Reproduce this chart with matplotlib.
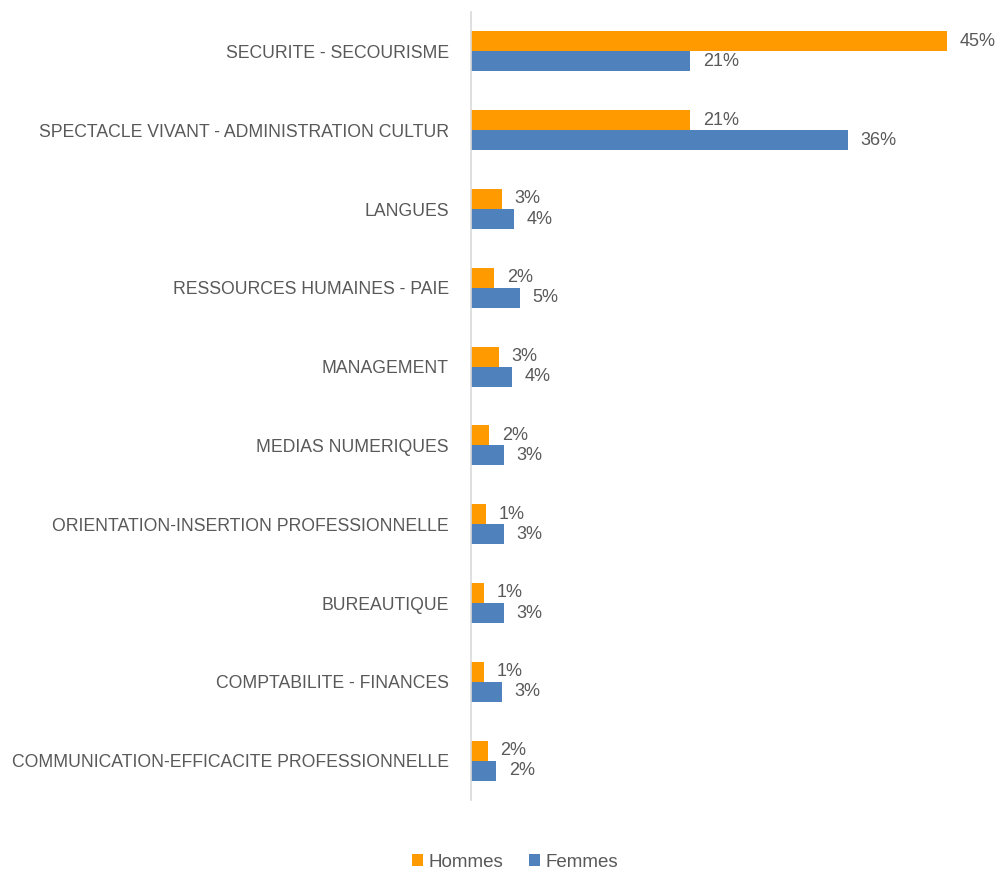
import numpy as np
import matplotlib.pyplot as plt

plt.rcParams['font.family'] = ['Liberation Sans', 'DejaVu Sans']

categories = [
    "SECURITE - SECOURISME",
    "SPECTACLE VIVANT - ADMINISTRATION CULTUR",
    "LANGUES",
    "RESSOURCES HUMAINES - PAIE",
    "MANAGEMENT",
    "MEDIAS NUMERIQUES",
    "ORIENTATION-INSERTION PROFESSIONNELLE",
    "BUREAUTIQUE",
    "COMPTABILITE - FINANCES",
    "COMMUNICATION-EFFICACITE PROFESSIONNELLE",
]
hommes = [45.0, 20.7, 2.9, 2.2, 2.6, 1.7, 1.4, 1.2, 1.2, 1.6]
femmes = [20.7, 35.6, 4.1, 4.6, 3.9, 3.1, 3.1, 3.1, 2.9, 2.4]

c_h = '#FF9A00'
c_f = '#4F81BD'
txt = '#595959'

fig = plt.figure(figsize=(10, 8.72), dpi=100)
ax = fig.add_axes([0.471, 1 - 800 / 872, 0.529, 788 / 872])

y = np.arange(len(categories))
h = 0.255
ax.barh(y - h / 2, hommes, height=h, color=c_h, label='Hommes')
ax.barh(y + h / 2, femmes, height=h, color=c_f, label='Femmes')

# value labels just past the end of each bar
for yi, v in zip(y, hommes):
    ax.text(v + 1.2, yi - h / 2, f"{v:.0f}%", va='center', ha='left', fontsize=13, color=txt)
for yi, v in zip(y, femmes):
    ax.text(v + 1.2, yi + h / 2, f"{v:.0f}%", va='center', ha='left', fontsize=13, color=txt)

ax.set_xlim(0, 50)
ax.set_ylim(len(categories) - 0.5, -0.5)
ax.set_yticks(y)
ax.set_yticklabels(categories, fontsize=12.7, color=txt)
ax.tick_params(axis='y', length=0, pad=16)
ax.set_xticks([])
for s in ['top', 'right', 'bottom']:
    ax.spines[s].set_visible(False)
ax.spines['left'].set_color('#D9D9D9')
ax.spines['left'].set_linewidth(1.2)

fig.legend(loc='center', bbox_to_anchor=(0.515, 1 - 862 / 872), ncol=2, frameon=False,
           fontsize=13.5, labelcolor=txt, handlelength=0.55, handleheight=0.55,
           handletextpad=0.3, columnspacing=1.4)

fig.savefig('out.png', dpi=100)
